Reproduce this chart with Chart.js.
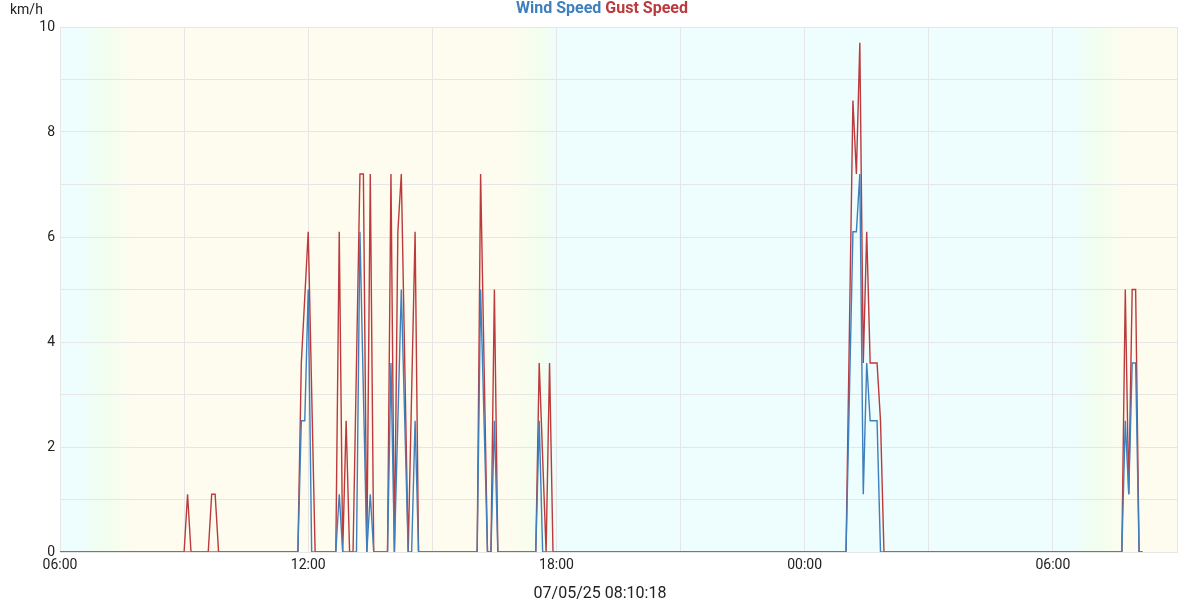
<!DOCTYPE html>
<html>
<head>
<meta charset="utf-8">
<title>Wind Speed</title>
<script src="https://cdn.jsdelivr.net/npm/chart.js@4.4.1/dist/chart.umd.min.js"></script>
<style>
    html, body { margin: 0; padding: 0; background: #fff; }
    #wrap { width: 1200px; height: 600px; }
</style>
</head>
<body>
<div id="wrap"><canvas id="wind-chart"></canvas></div>
<script>
// =============================
// Data (times HH:MM, rolls over to the next day after midnight)
// =============================
const windTimes = [
    '06:00',
    '11:45', '11:50', '11:55', '12:00', '12:05',
    '12:40', '12:45', '12:50',
    '13:10', '13:15', '13:25', '13:30', '13:35',
    '13:55', '14:00', '14:05', '14:15', '14:25', '14:30', '14:35', '14:40',
    '16:05', '16:10', '16:20', '16:25', '16:30', '16:35',
    '17:30', '17:35', '17:40',
    '01:00', '01:10', '01:15', '01:20', '01:25', '01:30', '01:35', '01:45', '01:50',
    '07:40', '07:45', '07:50', '07:55', '08:00', '08:05', '08:10'
];
const windValues = [
    0,
    0, 2.5, 2.5, 5.0, 0,
    0, 1.1, 0,
    0, 6.1, 0, 1.1, 0,
    0, 3.6, 0, 5.0, 0, 0, 2.5, 0,
    0, 5.0, 0, 0, 2.5, 0,
    0, 2.5, 0,
    0, 6.1, 6.1, 7.2, 1.1, 3.6, 2.5, 2.5, 0,
    0, 2.5, 1.1, 3.6, 3.6, 0, 0
];

const gustTimes = [
    '06:00',
    '09:00', '09:05', '09:10', '09:35', '09:40', '09:45', '09:50',
    '11:45', '11:50', '12:00', '12:10',
    '12:40', '12:45', '12:50', '12:55', '13:00', '13:05', '13:15', '13:20', '13:25', '13:30', '13:35',
    '13:55', '14:00', '14:05', '14:10', '14:15', '14:25', '14:35', '14:40',
    '16:05', '16:10', '16:20', '16:25', '16:30', '16:35',
    '17:30', '17:35', '17:45', '17:50', '17:55',
    '01:00', '01:10', '01:15', '01:20', '01:25', '01:30', '01:35', '01:45', '01:50', '01:55',
    '07:40', '07:45', '07:50', '07:55', '08:00', '08:05', '08:10'
];
const gustValues = [
    0,
    0, 1.1, 0, 0, 1.1, 1.1, 0,
    0, 3.6, 6.1, 0,
    0, 6.1, 0, 2.5, 0, 0, 7.2, 7.2, 0, 7.2, 0,
    0, 7.2, 0, 6.1, 7.2, 0, 6.1, 0,
    0, 7.2, 0, 0, 5.0, 0,
    0, 3.6, 0, 3.6, 0,
    0, 8.6, 7.2, 9.7, 3.6, 6.1, 3.6, 3.6, 2.5, 0,
    0, 5.0, 1.1, 5.0, 5.0, 0, 0
];

// Axis range: 06:00 to 09:00 next day
const startHour = 6;
const axisHours = 27;
const yTicks = [0, 2, 4, 6, 8, 10];

// Sunrise / sunset, hours after 06:00
const sunrise = [1.0, 25.0];
const sunset = [11.9];

const updated = '07/05/25 08:10:18';

// =============================
// Helpers
// =============================
function toHours(times) {
    let dayOffset = 0;
    let prev = -1;
    return times.map(t => {
        const [h, m] = t.split(':').map(Number);
        const raw = h + m / 60;
        if (raw < prev) dayOffset += 24;  // passed midnight
        prev = raw;
        return raw + dayOffset - startHour;
    });
}

function pad(n) {
    return String(n).padStart(2, '0');
}

const windPoints = toHours(windTimes).map((x, i) => ({ x, y: windValues[i] }));
const gustPoints = toHours(gustTimes).map((x, i) => ({ x, y: gustValues[i] }));

// Day / night shading behind the plot
const nightColour = 'rgb(238, 253, 253)';
const dawnColour = 'rgb(241, 254, 239)';
const dayColour = 'rgb(254, 252, 238)';

const dayNight = {
    id: 'dayNight',
    beforeDraw(chart) {
        const { ctx, chartArea: a, scales: { x } } = chart;
        const grad = ctx.createLinearGradient(a.left, 0, a.right, 0);
        const stop = (h, c) => {
            const f = (x.getPixelForValue(h) - a.left) / a.width;
            grad.addColorStop(Math.min(1, Math.max(0, f)), c);
        };
        stop(0, nightColour);
        sunrise.forEach((h, i) => {
            stop(h - 0.5, nightColour);
            stop(h + 0.05, dawnColour);
            stop(h + 0.8, dayColour);
            if (sunset[i] !== undefined) {
                stop(sunset[i] - 1.0, dayColour);
                stop(sunset[i] - 0.2, dawnColour);
                stop(sunset[i] + 0.1, nightColour);
            }
        });
        ctx.save();
        ctx.fillStyle = grad;
        ctx.fillRect(a.left, a.top, a.width, a.height);
        ctx.restore();
    }
};

// Unit label top left
const unitLabel = {
    id: 'unitLabel',
    afterDraw(chart) {
        const ctx = chart.ctx;
        ctx.save();
        ctx.font = '14px Roboto';
        ctx.fillStyle = '#222';
        ctx.textBaseline = 'middle';
        ctx.textAlign = 'left';
        ctx.fillText('km/h', 10, 10);
        ctx.restore();
    }
};

// =============================
// Chart
// =============================
const ctx = document.getElementById('wind-chart').getContext('2d');
new Chart(ctx, {
    type: 'line',
    data: {
        datasets: [
            {
                label: 'Wind Speed',
                data: windPoints,
                borderColor: '#3f7fbd',
                borderWidth: 1.4,
                pointRadius: 0,
                tension: 0,
                fill: false
            },
            {
                label: 'Gust Speed',
                data: gustPoints,
                borderColor: '#bb3a3d',
                borderWidth: 1.4,
                pointRadius: 0,
                tension: 0,
                fill: false
            }
        ]
    },
    options: {
        responsive: true,
        maintainAspectRatio: false,
        animation: false,
        layout: { padding: { left: 0, right: 0, top: 1, bottom: 0 } },
        plugins: {
            legend: {
                position: 'top',
                labels: {
                    boxWidth: -4,     // no colour box, text only
                    boxHeight: 0,
                    padding: 0,
                    font: { family: 'Roboto', size: 16, weight: 'bold' },
                    generateLabels: chart => chart.data.datasets.map((ds, i) => ({
                        text: ds.label,
                        fontColor: ds.borderColor,
                        fillStyle: 'transparent',
                        strokeStyle: 'transparent',
                        lineWidth: 0,
                        hidden: false,
                        datasetIndex: i
                    }))
                }
            },
            title: {
                display: true,
                position: 'bottom',
                text: updated,
                color: '#222',
                font: { family: 'Roboto', size: 16, weight: 'normal' },
                padding: { top: 6, bottom: -4 }
            },
            tooltip: { enabled: false }
        },
        scales: {
            x: {
                type: 'linear',
                min: 0,
                max: axisHours,
                grid: { color: '#e6e6e6', drawTicks: false },
                border: { color: '#e6e6e6' },
                ticks: {
                    stepSize: 3,
                    autoSkip: false,
                    maxRotation: 0,
                    padding: 5,
                    color: '#222',
                    font: { family: 'Roboto', size: 14 },
                    callback: v => v % 6 === 0 ? pad((v + startHour) % 24) + ':00' : ''
                }
            },
            y: {
                min: 0,
                max: 10,
                grid: { color: '#e6e6e6', drawTicks: false },
                border: { color: '#e6e6e6' },
                afterFit: scale => { scale.width = 60; },
                ticks: {
                    stepSize: 1,
                    padding: 5,
                    color: '#222',
                    font: { family: 'Roboto', size: 14 },
                    callback: v => yTicks.includes(v) ? v : ''
                }
            },
            // empty right-hand strip so legend and footer centre on the whole canvas
            yRight: {
                position: 'right',
                min: 0,
                max: 10,
                grid: { display: false },
                border: { display: false },
                ticks: { display: false },
                afterFit: scale => { scale.width = 23; }
            }
        }
    },
    plugins: [dayNight, unitLabel]
});
</script>
</body>
</html>
